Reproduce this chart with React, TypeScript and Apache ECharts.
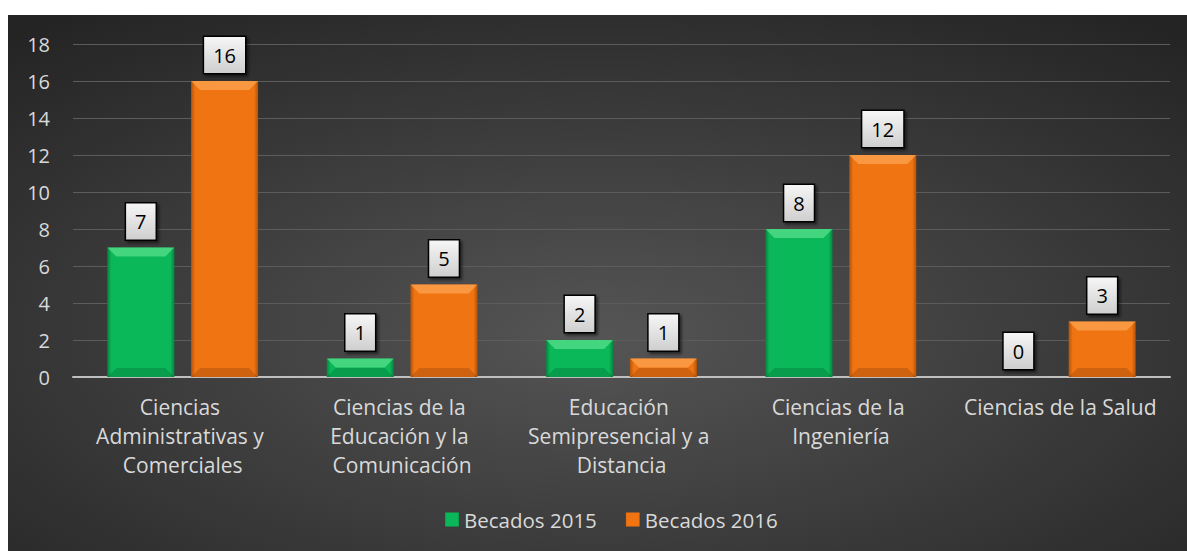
import React, { useEffect, useRef } from "react";
import * as echarts from "echarts";

const categories = [
  "Ciencias Administrativas y Comerciales",
  "Ciencias de la Educación y la Comunicación",
  "Educación Semipresencial y a Distancia",
  "Ciencias de la Ingeniería",
  "Ciencias de la Salud",
];
const becados2015 = [7, 1, 2, 8, 0];
const becados2016 = [16, 5, 1, 12, 3];
const seriesNames = ["Becados 2015", "Becados 2016"];
const yMin = 0;
const yMax = 18;
const yInterval = 2;

const FONT = "'Open Sans', 'DejaVu Sans', sans-serif";
const BAR_W = 67;
const BAR_GAP_PCT = "25%";

function barColor(edge: string, main: string) {
  return new echarts.graphic.LinearGradient(0, 0, 1, 0, [
    { offset: 0, color: edge },
    { offset: 0.06, color: main },
    { offset: 0.94, color: main },
    { offset: 1, color: edge },
  ]);
}

const labelStyle = {
  show: true,
  position: "top",
  distance: 8,
  color: "#000",
  fontFamily: FONT,
  fontSize: 20,
  lineHeight: 24,
  padding: [6, 9, 6, 9],
  borderColor: "#000",
  borderWidth: 1.5,
  backgroundColor: new echarts.graphic.LinearGradient(0, 0, 0, 1, [
    { offset: 0, color: "#f6f6f6" },
    { offset: 1, color: "#cfcfcf" },
  ]),
  shadowColor: "rgba(0,0,0,0.55)",
  shadowBlur: 3,
  shadowOffsetX: 2,
  shadowOffsetY: 2,
};

function bevelSeries(values: number[], sign: number, light: string, dark: string) {
  return {
    type: "custom",
    silent: true,
    z: 3,
    data: values.map((v, i) => [i, v]),
    encode: { x: 0, y: 1 },
    renderItem: (params: any, api: any) => {
      const v = api.value(1);
      if (!v) return null;
      const w = BAR_W;
      const gap = w * 0.25;
      const offset = (sign * (w + gap)) / 2;
      const top = api.coord([api.value(0), v]);
      const base = api.coord([api.value(0), 0]);
      const cx = top[0] + offset;
      const x0 = cx - w / 2;
      const x1 = cx + w / 2;
      const y0 = top[1];
      const y1 = base[1];
      const b = Math.min(9, (y1 - y0) / 2);
      return {
        type: "group",
        children: [
          {
            type: "polygon",
            shape: { points: [[x0, y0], [x1, y0], [x1 - b, y0 + b], [x0 + b, y0 + b]] },
            style: { fill: light, opacity: 0.6 },
          },
          {
            type: "polygon",
            shape: { points: [[x0, y1], [x1, y1], [x1 - b, y1 - b], [x0 + b, y1 - b]] },
            style: { fill: dark, opacity: 0.2 },
          },
        ],
      };
    },
  };
}

export default function App() {
  const ref = useRef<HTMLDivElement>(null);
  useEffect(() => {
    if (!ref.current) return;
    const chart = echarts.init(ref.current, null, { renderer: "svg" });
    chart.setOption({
      animation: false,
      textStyle: { fontFamily: FONT },
      graphic: [
        {
          type: "rect",
          z: -10,
          shape: { x: 0, y: 0, width: 1179, height: 536 },
          style: {
            fill: new echarts.graphic.RadialGradient(0.5, 0.6, 0.75, [
              { offset: 0, color: "#555555" },
              { offset: 1, color: "#242424" },
            ]),
          },
        },
      ],
      grid: { left: 65, right: 17, top: 29, bottom: 174, containLabel: false },
      legend: {
        data: seriesNames,
        bottom: 16,
        left: 432,
        itemWidth: 14,
        itemHeight: 14,
        itemGap: 29,
        icon: "rect",
        textStyle: { color: "#d9d9d9", fontSize: 20.5, fontFamily: FONT },
      },
      xAxis: {
        type: "category",
        data: categories,
        axisLine: { show: true, lineStyle: { color: "#bfbfbf", width: 2 } },
        axisTick: { show: false },
        axisLabel: {
          color: "#d9d9d9",
          fontSize: 21,
          lineHeight: 29,
          fontFamily: FONT,
          margin: 15,
          interval: 0,
          width: 208,
          overflow: "break",
        },
      },
      yAxis: {
        type: "value",
        min: yMin,
        max: yMax,
        interval: yInterval,
        axisLine: { show: false },
        axisTick: { show: false },
        splitLine: { lineStyle: { color: "#5c5c5c", width: 1 } },
        axisLabel: { color: "#d9d9d9", fontSize: 20, fontFamily: FONT, margin: 23 },
      },
      series: [
        {
          name: seriesNames[0],
          type: "bar",
          data: becados2015,
          barWidth: BAR_W,
          barGap: BAR_GAP_PCT,
          itemStyle: { color: barColor("#06853f", "#0bb859") },
          label: labelStyle,
        },
        {
          name: seriesNames[1],
          type: "bar",
          data: becados2016,
          barWidth: BAR_W,
          barGap: BAR_GAP_PCT,
          itemStyle: { color: barColor("#b45409", "#f07412") },
          label: labelStyle,
        },
        bevelSeries(becados2015, -1, "#6ae89a", "#003018"),
        bevelSeries(becados2016, 1, "#ffb060", "#4a1e00"),
      ],
    });
    return () => chart.dispose();
  }, []);
  return (
    <div
      ref={ref}
      style={{ position: "absolute", left: 8, top: 15, width: 1179, height: 536 }}
    />
  );
}
